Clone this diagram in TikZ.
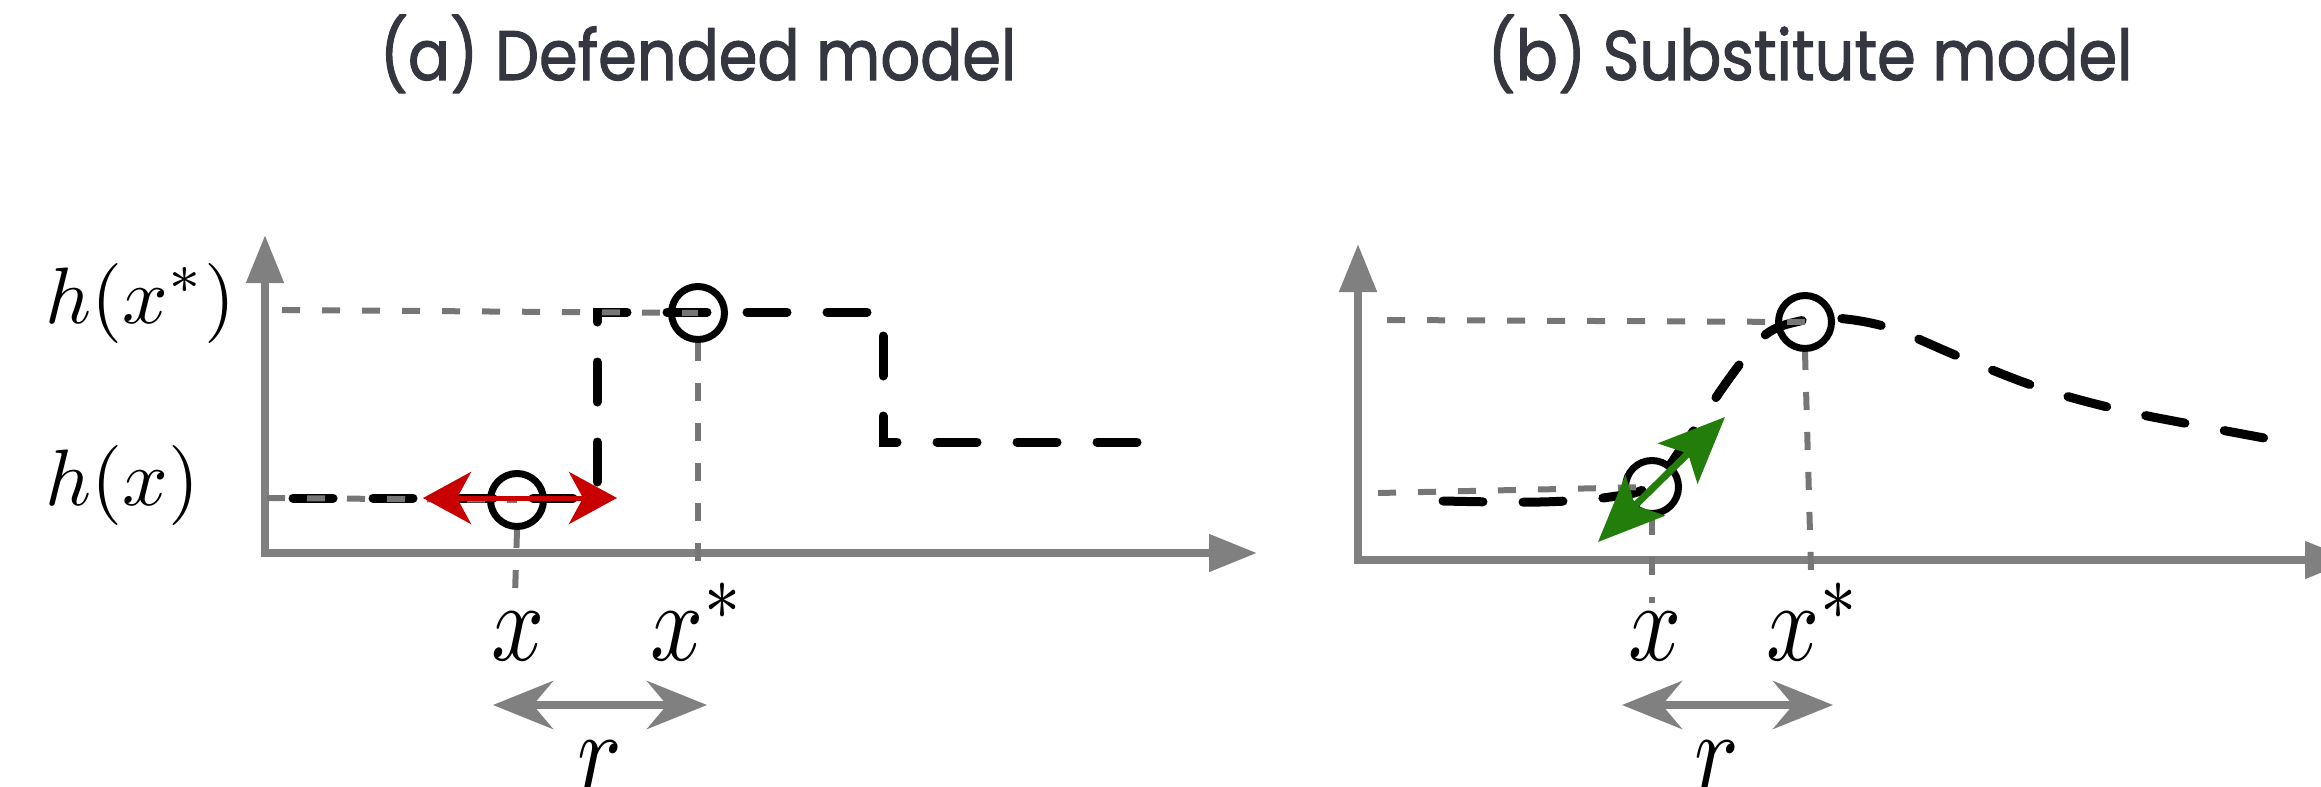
\documentclass[tikz,border=0pt]{standalone}
\usepackage{fontspec}
\usepackage{graphicx}
\usetikzlibrary{arrows.meta}
\newfontfamily\titlefont{Poppins}[FakeBold=1.6]
\definecolor{axisgray}{RGB}{128,128,128}
\definecolor{guidegray}{RGB}{118,118,118}
\definecolor{titlegray}{RGB}{52,55,64}
\definecolor{pushred}{RGB}{200,0,0}
\definecolor{gradgreen}{RGB}{35,125,10}
% math labels are set at 10pt and enlarged
\newcommand{\hmath}[1]{\scalebox{8}{$#1$}}
\newcommand{\xmath}[1]{\scalebox{9.3}[11.2]{$#1$}}

\begin{document}
\begin{tikzpicture}[x=1pt,y=-1pt,
  axis/.style={draw=axisgray, line width=8pt,
    {Triangle[length=48pt,width=36pt]}-{Triangle[length=48pt,width=36pt]}},
  guide/.style={draw=guidegray, line width=6pt, dash pattern=on 18pt off 22pt},
  curve/.style={draw=black, line width=9pt, dash pattern=on 40pt off 40pt, line cap=round},
  hollow/.style={circle, draw=black, line width=7pt, minimum size=53pt, inner sep=0pt},
  span/.style={draw=axisgray, line width=8pt,
    {Stealth[length=60pt,width=48pt,inset=20pt]}-{Stealth[length=60pt,width=48pt,inset=20pt]}},
  push/.style={draw=pushred, line width=5pt,
    {Stealth[length=48pt,width=52pt,inset=14pt]}-{Stealth[length=48pt,width=52pt,inset=14pt]}},
  grad/.style={draw=gradgreen, line width=7pt,
    {Stealth[length=66pt,width=56pt,inset=14pt]}-{Stealth[length=66pt,width=56pt,inset=14pt]}},
  hlab/.style={inner sep=0pt, anchor=base west},
  xlab/.style={inner sep=0pt, anchor=base},
  title/.style={inner sep=0pt, anchor=base, text=titlegray, font=\titlefont\fontsize{70}{84}\selectfont}
]
\useasboundingbox (0,0) rectangle (2321,787);
\clip (0,0) rectangle (2321,787);

% ---------- titles ----------
\node[title] (ta) at (698,80) {\scalebox{0.89}[1]{(a) Defended model}};
\node[title] (tb) at (1810,80) {\scalebox{0.89}[1]{(b) Substitute model}};

% ---------- (a) defended model ----------
\coordinate (ya) at (265,235);
\coordinate (oa) at (265,553);
\coordinate (xa) at (1257,553);
\draw[axis] (ya) -- (oa) -- (xa);

\draw[curve] (293,498) -- (597,498) -- (597,312) -- (883,312) -- (883,442) -- (1168,442);

\node[hollow] (pa) at (517,500) {};
\node[hollow] (qa) at (698,313) {};

\coordinate (gha) at (282,310);
\coordinate (gla) at (267,498);
\coordinate (dpa) at (515,595);
\coordinate (dqa) at (698,562);
\draw[guide] (gha) -- (qa.center);
\draw[guide] (gla) -- (pa.center);
\draw[guide] (pa.south) -- (dpa);
\draw[guide] (qa.south) -- (dqa);

\coordinate (rla) at (423,498);
\coordinate (rra) at (617,498);
\draw[push] (rla) -- (rra);

\node[hlab] (hxs) at (45,323) {\hmath{h(x^*)}};
\node[hlab] (hx) at (45,505) {\hmath{h(x)}};

\node[xlab] (lxa) at (518,660) {\xmath{x}};
\node[xlab] (lxsa) at (698,660) {\xmath{x^*}};

\coordinate (sla) at (493,705);
\coordinate (sra) at (707,705);
\draw[span] (sla) -- (sra);
\node[xlab] (ra) at (600,789) {\xmath{r}};

% ---------- (b) substitute model ----------
\coordinate (yb) at (1358,244);
\coordinate (ob) at (1358,560);
\coordinate (xb) at (2353,560);
\draw[axis] (yb) -- (ob) -- (xb);

\draw[curve] plot[smooth, tension=0.6] coordinates {
  (1443,501) (1540,502) (1610,497) (1652,485) (1683,446) (1731,376)
  (1765,335) (1800,321) (1835,318) (1890,328) (1960,357) (2040,388)
  (2120,410) (2200,426) (2275,440)};

\node[hollow] (pb) at (1652,487) {};
\node[hollow] (qb) at (1805,322) {};

\coordinate (ghb) at (1387,320);
\coordinate (glb) at (1378,493);
\coordinate (dpb) at (1652,603);
\coordinate (dqb) at (1811,570);
\draw[guide] (ghb) -- (qb.center);
\draw[guide] (glb) -- (pb.center);
\draw[guide] (pb.south) -- (dpb);
\draw[guide] (qb.south) -- (dqb);

\coordinate (gtb) at (1598,542);
\coordinate (ghd) at (1725,417);
\draw[grad] (gtb) -- (ghd);

\node[xlab] (lxb) at (1655,660) {\xmath{x}};
\node[xlab] (lxsb) at (1814,660) {\xmath{x^*}};

\coordinate (slb) at (1622,705);
\coordinate (srb) at (1833,705);
\draw[span] (slb) -- (srb);
\node[xlab] (rb) at (1717,789) {\xmath{r}};
\end{tikzpicture}
\end{document}
